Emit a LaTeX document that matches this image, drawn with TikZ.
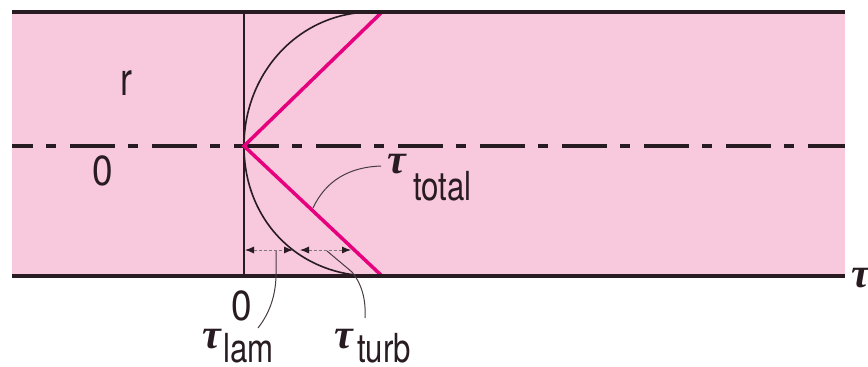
\documentclass[tikz,border=0pt]{standalone}
\usepackage{fontspec}
\usetikzlibrary{arrows.meta}
\newfontfamily\condfont[FakeStretch=0.78]{TeX Gyre Heros}
\newfontfamily\digitfont[FakeStretch=0.88]{TeX Gyre Heros}
\newfontfamily\greekfont{Liberation Serif}
\definecolor{pinkbg}{RGB}{248,200,220}
\definecolor{magline}{RGB}{230,0,126}
\definecolor{darkline}{RGB}{40,28,34}
\definecolor{leadgray}{RGB}{70,60,66}
\tikzset{
  wall/.style={line width=4.5pt, darkline},
  lbl/.style={inner sep=0pt, text=darkline, font=\condfont\fontsize{40}{40}\selectfont},
  digitlbl/.style={inner sep=0pt, text=darkline, font=\digitfont\fontsize{42}{42}\selectfont},
  taulbl/.style={inner sep=0pt, text=darkline, font=\greekfont\itshape\bfseries\fontsize{42}{42}\selectfont},
  leader/.style={line width=1pt, leadgray},
  dimarrow/.style={line width=0.9pt, leadgray!70, dash pattern=on 3pt off 2pt,
    {Latex[length=9pt,width=7pt,fill=darkline,color=darkline]}-{Latex[length=9pt,width=7pt,fill=darkline,color=darkline]}},
  magenta line/.style={line width=3.5pt, magline},
}
\begin{document}
\begin{tikzpicture}[x=1pt,y=-1pt]
\useasboundingbox (0,0) rectangle (868,367);
% background band
\fill[pinkbg] (12,12) rectangle (845,276);
% coordinates
\coordinate (cl) at (12,146);
\coordinate (cr) at (845,146);
\coordinate (tl) at (12,12);
\coordinate (tr) at (845,12);
\coordinate (bl) at (12,276);
\coordinate (br) at (845,276);
\coordinate (ax0) at (244,146);
\coordinate (axT) at (244,12);
\coordinate (axB) at (244,276);
\coordinate (mT) at (382,12);
\coordinate (mB) at (382,276);
\coordinate (pT) at (372,12);
\coordinate (pB) at (372,276);
% vertical axis
\draw[line width=1.4pt, darkline] (axT) -- (axB);
% centre line
\draw[line width=3.6pt, darkline, dash pattern=on 45pt off 13pt on 10pt off 14pt, dash phase=24pt] (cl) -- (cr);
% profile curve
\draw[line width=1.6pt, darkline] (pT) .. controls (300,12) and (244,72) .. (ax0)
  .. controls (244,222) and (300,276) .. (pB);
% total shear lines
\draw[magenta line] (mT) -- (ax0) -- (mB);
% walls
\draw[wall] (tl) -- (tr);
\draw[wall] (bl) -- (br);
% dimension arrows
\coordinate (a1l) at (245,250);
\coordinate (a1r) at (293,250);
\coordinate (a2l) at (300,250);
\coordinate (a2r) at (351,250);
\draw[dimarrow] (a1l) -- (a1r);
\draw[dimarrow] (a2l) -- (a2r);
% labels
\node[lbl, anchor=base west, font=\condfont\fontsize{46}{46}\selectfont] (r) at (120,95) {r};
\node[digitlbl, anchor=base] (zeroL) at (103,185) {0};
\node[digitlbl, anchor=base] (zeroB) at (242,320) {0};
\node[taulbl, anchor=base west] (tauT) at (387,173) {τ};
\node[lbl, anchor=base west] (total) at (413,200) {total};
\node[taulbl, anchor=base west] (tauL) at (202,348) {τ};
\node[lbl, anchor=base west] (lam) at (223,362) {lam};
\node[taulbl, anchor=base west] (tauU) at (334,348) {τ};
\node[lbl, anchor=base west] (turb) at (357,362) {turb};
\node[taulbl, anchor=base west] (tauR) at (851,287) {τ};
% leaders
\coordinate (ltot0) at (313,208);
\coordinate (ltot1) at (381,166);
\draw[leader] (ltot0) .. controls (326,180) and (350,167) .. (ltot1);
\coordinate (llam0) at (276,251);
\coordinate (llam1) at (258,328);
\draw[leader] (llam0) -- (276,266) .. controls (277,290) and (272,310) .. (llam1);
\coordinate (ltur0) at (327,251);
\coordinate (ltur1) at (365,318);
\draw[leader] (ltur0) -- (352,272) .. controls (362,284) and (366,300) .. (ltur1);
\end{tikzpicture}
\end{document}
